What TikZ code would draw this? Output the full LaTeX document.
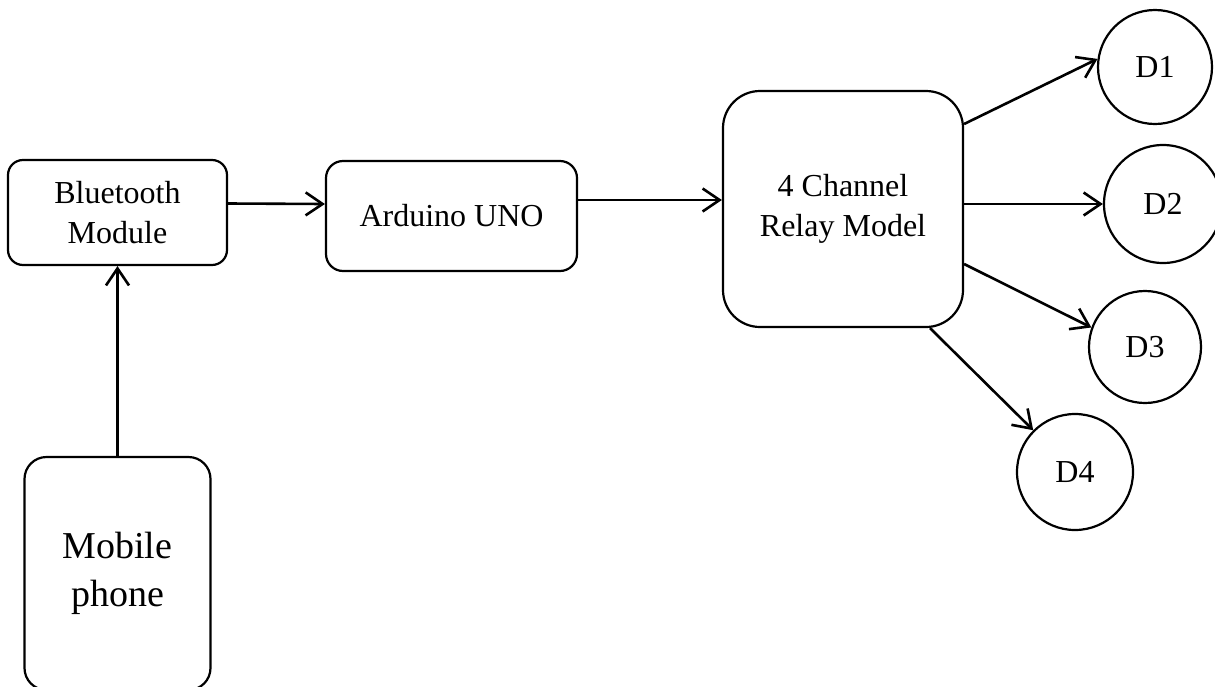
\documentclass[tikz,border=0pt]{standalone}
\usepackage{fontspec}
\setmainfont{Liberation Serif}
\usetikzlibrary{positioning,arrows.meta,calc}
\tikzset{>={Straight Barb[length=8.5pt,width=11.5pt]}}
\tikzset{
  module/.style={draw, line width=1.1pt, align=center, font=\fontsize{16}{20}\selectfont},
  device/.style={draw, circle, line width=1.1pt, inner sep=0pt, font=\fontsize{16}{20}\selectfont}
}

\begin{document}
\begin{tikzpicture}[line width=1.3pt]
        \useasboundingbox (0,0) rectangle (607.5pt,-343pt);
        \node[module, rounded corners=7.5pt, minimum width=109.5pt, minimum height=52.5pt] (bt) at (58.75pt,-106.25pt) {Bluetooth\\Module}; %input side
        \node[module, rounded corners=8.5pt, minimum width=125.5pt, minimum height=55pt] (uno) [right of=bt, node distance=167pt, yshift=-1.75pt] {Arduino UNO};
        \node[module, rounded corners=18.5pt, minimum width=120pt, minimum height=118pt] (relay) [right of=uno, node distance=195.75pt, yshift=3.5pt] {4 Channel\\Relay Model};
        \node[module, rounded corners=11pt, minimum width=93pt, minimum height=116.5pt, font=\fontsize{19}{24}\selectfont] (phone) [below of=bt, node distance=180.5pt] {Mobile\\phone};

        % loads
        \node[device, minimum size=57pt] (d1) at ($(relay)+(156pt,71pt)$) {D1};
        \node[device, minimum size=59pt] (d2) at ($(relay)+(160pt,2.5pt)$) {D2};
        \node[device, minimum size=56pt] (d3) at ($(relay)+(151pt,-69pt)$) {D3};
        \node[device, minimum size=58pt] (d4) at ($(relay)+(116pt,-131.5pt)$) {D4};

        \draw[->] (phone.north) -- (bt.south);
        \draw[->] ([yshift=4.5pt]bt.east) -- ([yshift=6pt]uno.west);
        \draw[->] ([yshift=8pt]uno.east) -- ([yshift=4.5pt]relay.west);
        \draw[->] ([yshift=42.5pt]relay.east) -- (d1.172);
        \draw[->] (relay.east |- d2) -- (d2);
        \draw[->] ([yshift=-27.5pt]relay.east) -- (d3.160);
        \draw[->] ([xshift=43.5pt]relay.south) -- (d4.135);
      \end{tikzpicture}
\end{document}
